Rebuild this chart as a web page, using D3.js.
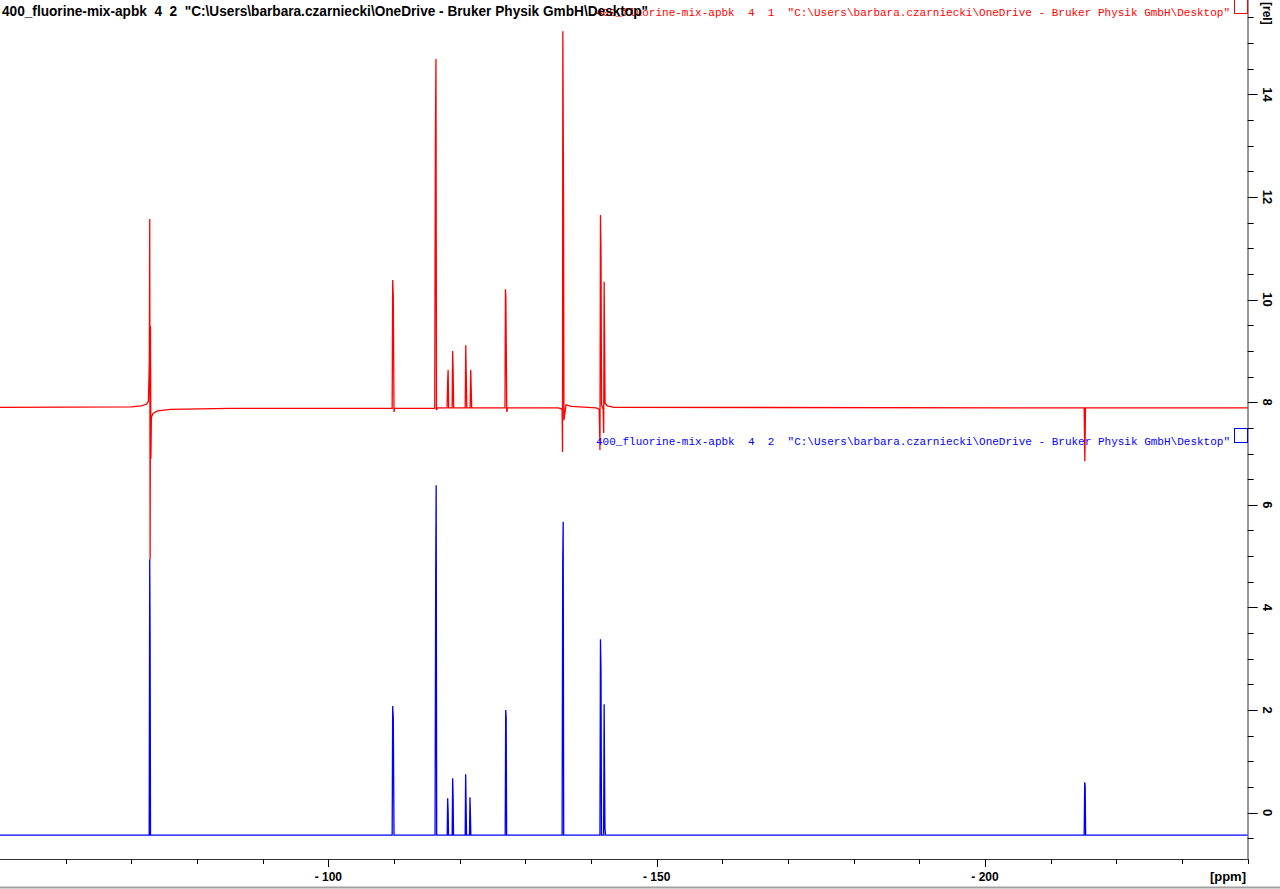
<!DOCTYPE html>
<html><head><meta charset="utf-8">
<script src="https://cdn.jsdelivr.net/npm/d3@7/dist/d3.min.js"></script>
<style>html,body{margin:0;padding:0;background:#fff;overflow:hidden} text{white-space:pre}</style>
</head><body><svg id="c" width="1280" height="889"></svg>
<script>
// ---------------- data ----------------
const titleText = '400_fluorine-mix-apbk  4  2  "C:\\Users\\barbara.czarniecki\\OneDrive - Bruker Physik GmbH\\Desktop"';
const redLabel  = '400_fluorine-mix-apbk  4  1  "C:\\Users\\barbara.czarniecki\\OneDrive - Bruker Physik GmbH\\Desktop"';
const blueLabel = '400_fluorine-mix-apbk  4  2  "C:\\Users\\barbara.czarniecki\\OneDrive - Bruker Physik GmbH\\Desktop"';
const xUnit = '[ppm]';
const yUnit = '[rel]';
const xDomain = [-50, -240];
const yDomain = [15.84, -0.904];
const xMajorTicks = [-100, -150, -200];
const xMajorLabels = ['- 100', '- 150', '- 200'];
const xMinorTicks = [-60,-70,-80,-90,-110,-120,-130,-140,-160,-170,-180,-190,-210,-220,-230,-240];
const yMajorTicks = [0, 2, 4, 6, 8, 10, 12, 14];
const yMinorTicks = [-0.5,0.5,1,1.5,2.5,3,3.5,4.5,5,5.5,6.5,7,7.5,8.5,9,9.5,10.5,11,11.5,12.5,13,13.5,14.5,15,15.5];

// spectrum 1 (red, 4 1) : chemical shift [ppm] and intensity [rel]
const redPpm = [-50.0,-70.0,-71.5,-72.3,-72.6,-72.74,-72.80,-72.86,-72.92,-72.98,-73.05,-73.3,-74.0,-76.0,-85.0,
  -109.72,-109.80,-109.89,-110.0,-110.1,-110.25,
  -116.20,-116.30,-116.39,-116.47,-116.6,
  -118.08,-118.17,-118.24,-118.32,
  -118.85,-118.93,-119.0,-119.08,
  -120.84,-120.93,-121.0,-121.08,
  -121.6,-121.68,-121.75,-121.83,
  -126.9,-126.97,-127.03,-127.1,-127.17,-127.3,
  -135.0,-135.5,-135.6,-135.66,-135.71,-135.76,-135.82,-135.88,-136.2,-137.0,
  -140.8,-141.25,-141.36,-141.44,-141.52,-141.6,-141.85,-141.93,-142.0,-142.06,-142.14,-142.5,-143.5,
  -215.1,-215.2,-215.3,-240.0];
const redInt = [7.90,7.91,7.93,7.96,8.02,8.80,11.57,4.94,9.48,6.90,7.70,7.78,7.83,7.86,7.88,
  7.88,10.38,10.05,7.81,7.88,7.88,
  7.88,13.03,14.69,7.85,7.89,
  7.89,8.38,8.63,7.89,
  7.89,9.00,8.63,7.89,
  7.89,9.11,8.53,7.89,
  7.89,8.63,8.28,7.89,
  7.89,10.20,10.05,9.00,7.81,7.89,
  7.89,7.87,7.85,7.03,15.23,13.69,11.61,7.65,7.95,7.92,
  7.89,7.86,7.07,11.65,10.93,7.95,7.86,7.40,10.35,9.44,7.98,7.93,7.90,
  7.89,6.85,7.89,7.89];

// spectrum 2 (blue, 4 2)
const bluePpm = [-50.0,-72.72,-72.80,-72.86,-72.92,
  -109.72,-109.80,-109.89,-110.0,
  -116.25,-116.35,-116.42,-116.5,
  -118.1,-118.17,-118.24,-118.3,
  -118.86,-118.93,-119.0,-119.06,
  -120.84,-120.91,-120.98,-121.04,
  -121.5,-121.57,-121.64,-121.7,
  -126.93,-127.01,-127.08,-127.15,
  -135.6,-135.69,-135.76,-135.84,
  -141.36,-141.44,-141.52,-141.6,
  -141.92,-142.0,-142.06,-142.12,-142.2,
  -215.1,-215.18,-215.25,-215.32,-240.0];
const blueInt = [-0.44,-0.44,4.94,3.34,-0.44,
  -0.44,2.08,1.84,-0.44,
  -0.44,4.67,6.38,-0.44,
  -0.44,0.28,0.03,-0.44,
  -0.44,0.67,0.31,-0.44,
  -0.44,0.75,0.15,-0.44,
  -0.44,0.30,-0.07,-0.44,
  -0.44,2.00,1.87,-0.44,
  -0.44,4.87,5.67,-0.44,
  -0.44,3.38,2.78,-0.44,
  -0.44,2.11,0.83,-0.30,-0.44,
  -0.44,0.59,0.52,-0.44,-0.44];

// ---------------- drawing ----------------
const svg = d3.select('#c');
const axisX = 1247.7, axisY = 859;
const x = d3.scaleLinear().domain(xDomain).range([0, axisX]);
const y = d3.scaleLinear().domain(yDomain).range([0, axisY]);

const line = d3.line().x(d => x(d[0])).y(d => y(d[1]));
const red = redPpm.map((p, i) => [p, redInt[i]]);
const blue = bluePpm.map((p, i) => [p, blueInt[i]]);

const plot = svg.append('g');
plot.append('path').datum(blue).attr('d', line)
  .attr('fill', 'none').attr('stroke', '#0000ff').attr('stroke-width', 1.3);
plot.append('path').datum(red).attr('d', line)
  .attr('fill', 'none').attr('stroke', '#ff0000').attr('stroke-width', 1.3);

// axes
const axisColor = '#333';
const fontAxis = '"Liberation Sans Narrow","Liberation Sans",Arial,sans-serif';
const gx = svg.append('g');
gx.append('line').attr('x1', 0).attr('x2', axisX).attr('y1', axisY + 0.5).attr('y2', axisY + 0.5)
  .attr('stroke', axisColor).attr('stroke-width', 1);
gx.selectAll('.mj').data(xMajorTicks).enter().append('line')
  .attr('x1', d => Math.round(x(d)) + 0.5).attr('x2', d => Math.round(x(d)) + 0.5)
  .attr('y1', axisY).attr('y2', axisY + 8).attr('stroke', '#000');
gx.selectAll('.mn').data(xMinorTicks).enter().append('line')
  .attr('x1', d => Math.round(x(d)) + 0.5).attr('x2', d => Math.round(x(d)) + 0.5)
  .attr('y1', axisY).attr('y2', axisY + 5).attr('stroke', '#000');
gx.selectAll('.lb').data(xMajorTicks).enter().append('text')
  .attr('x', d => x(d)).attr('y', 881).attr('text-anchor', 'middle')
  .attr('font-family', fontAxis).attr('font-weight', 'bold').attr('font-size', 12)
  .text((d, i) => xMajorLabels[i]);
gx.append('text').attr('x', 1246).attr('y', 881).attr('text-anchor', 'end')
  .attr('font-family', fontAxis).attr('font-weight', 'bold').attr('font-size', 13).text(xUnit);

const gy = svg.append('g');
gy.append('line').attr('x1', axisX + 0.3).attr('x2', axisX + 0.3).attr('y1', 0).attr('y2', axisY + 1)
  .attr('stroke', axisColor).attr('stroke-width', 1);
gy.selectAll('.mj').data(yMajorTicks).enter().append('line')
  .attr('y1', d => Math.round(y(d)) + 0.5).attr('y2', d => Math.round(y(d)) + 0.5)
  .attr('x1', axisX).attr('x2', axisX + 10).attr('stroke', '#000');
gy.selectAll('.mn').data(yMinorTicks).enter().append('line')
  .attr('y1', d => Math.round(y(d)) + 0.5).attr('y2', d => Math.round(y(d)) + 0.5)
  .attr('x1', axisX).attr('x2', axisX + 6).attr('stroke', '#000');
gy.selectAll('.lb').data(yMajorTicks).enter().append('text')
  .attr('transform', d => `translate(1263,${y(d)}) rotate(90)`)
  .attr('text-anchor', 'middle')
  .attr('font-family', fontAxis).attr('font-weight', 'bold').attr('font-size', 13)
  .text(d => d);
gy.append('text').attr('transform', 'translate(1263,2) rotate(90)')
  .attr('text-anchor', 'start')
  .attr('font-family', fontAxis).attr('font-weight', 'bold').attr('font-size', 12).text(yUnit);

// spectrum markers and labels
svg.append('rect').attr('x', 1234.5).attr('y', -1.5).attr('width', 13).attr('height', 15)
  .attr('fill', 'none').attr('stroke', '#ff0000');
svg.append('rect').attr('x', 1234.5).attr('y', 428.5).attr('width', 13).attr('height', 14)
  .attr('fill', 'none').attr('stroke', '#0000ff');
const monoFont = '"Liberation Mono","DejaVu Sans Mono",monospace';
svg.append('text').attr('x', 1230).attr('y', 16).attr('text-anchor', 'end')
  .attr('xml:space', 'preserve')
  .attr('font-family', monoFont).attr('font-size', 11).attr('fill', '#ff0000')
  .attr('textLength', 634).attr('lengthAdjust', 'spacingAndGlyphs').text(redLabel);
svg.append('text').attr('x', 1230).attr('y', 445).attr('text-anchor', 'end')
  .attr('xml:space', 'preserve')
  .attr('font-family', monoFont).attr('font-size', 11).attr('fill', '#0000ff')
  .attr('textLength', 634).attr('lengthAdjust', 'spacingAndGlyphs').text(blueLabel);
svg.append('text').attr('x', 2).attr('y', 16)
  .attr('xml:space', 'preserve')
  .attr('font-family', fontAxis).attr('font-weight', 'bold').attr('font-size', 14).attr('fill', '#000')
  .attr('textLength', 646).attr('lengthAdjust', 'spacingAndGlyphs').text(titleText);

// window bottom border
svg.append('line').attr('x1', 0).attr('x2', 1280).attr('y1', 887.5).attr('y2', 887.5)
  .attr('stroke', '#a0a0a0').attr('stroke-width', 2);
</script></body></html>
